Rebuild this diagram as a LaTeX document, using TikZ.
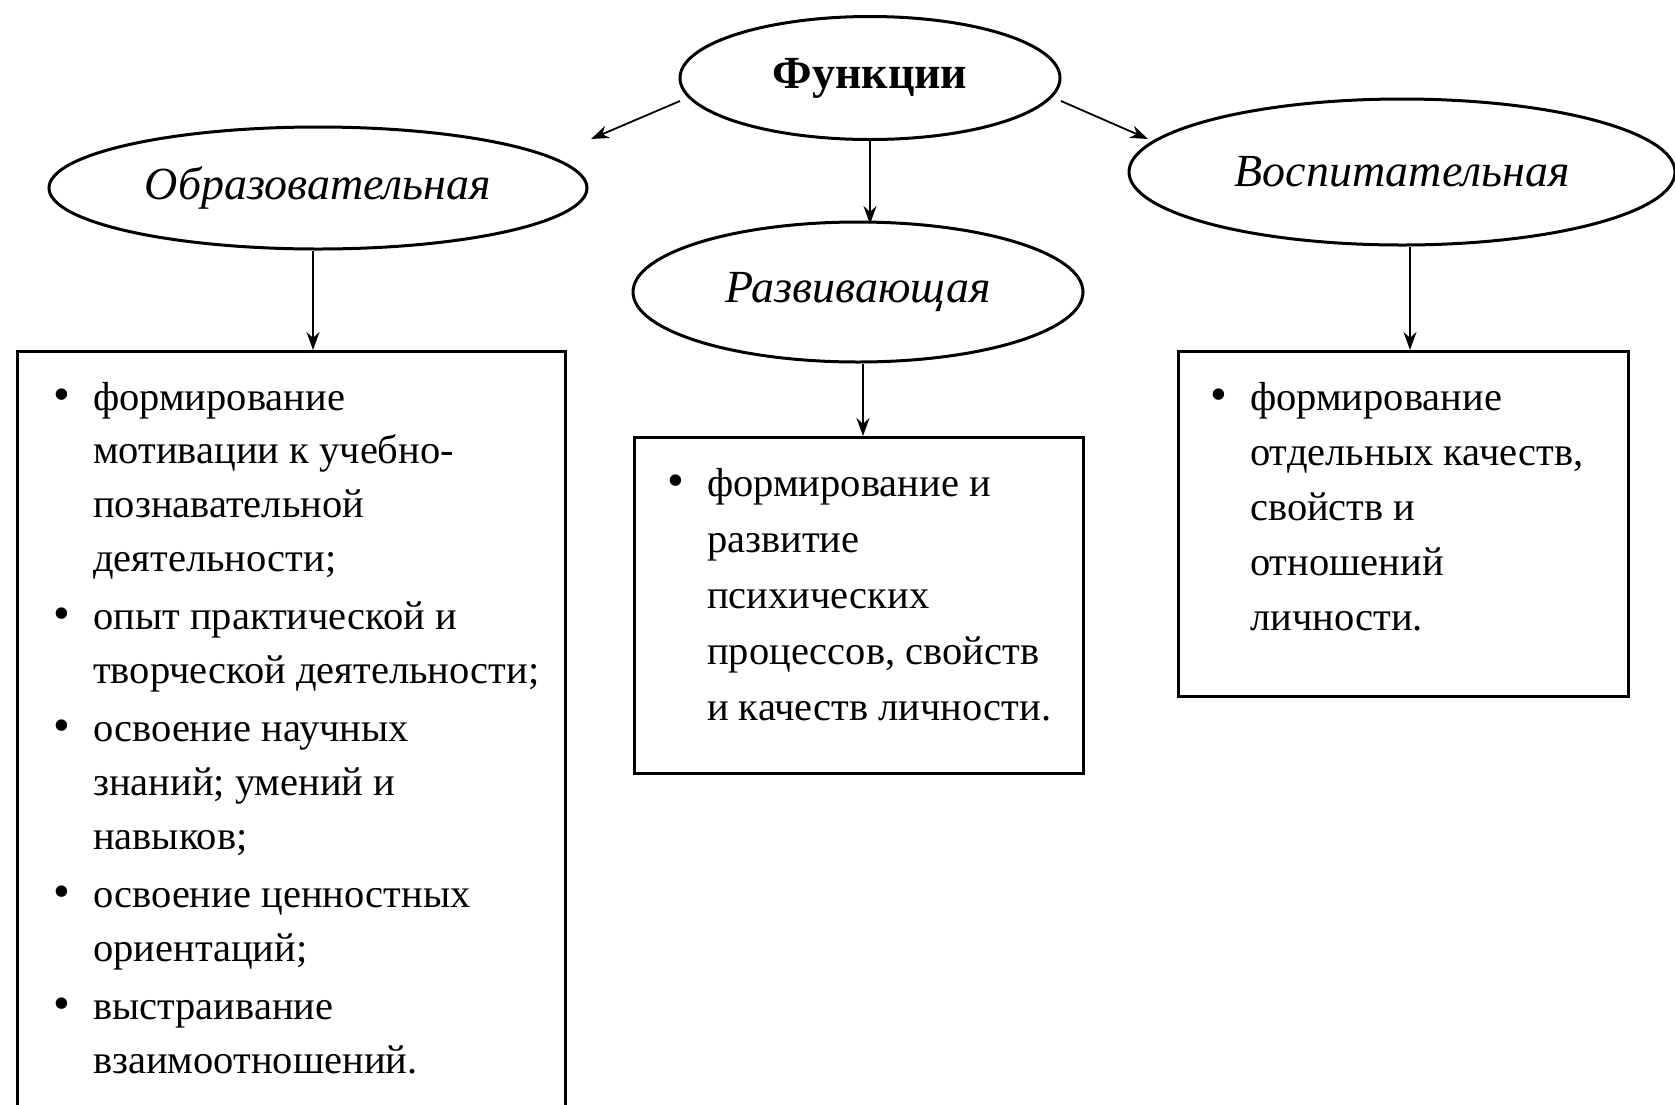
\documentclass[tikz,border=0pt]{standalone}
\usepackage{fontspec}
\setmainfont{Liberation Serif}
\usetikzlibrary{shapes.geometric,arrows.meta}
\tikzset{
  oval/.style={ellipse,draw,line width=3pt,inner sep=0pt},
  boxshape/.style={rectangle,draw,line width=3pt,inner sep=0pt,anchor=north west},
  conn/.style={line width=1.8pt,-{Stealth[length=18pt,width=13pt]}},
  listtext/.style={anchor=base west,inner sep=0pt,font=\fontsize{40.5}{53.8}\selectfont}
}
\newcommand{\bul}{\makebox[40pt][l]{\raisebox{0pt}{\fontsize{48}{48}\selectfont\textbullet}}}
\begin{document}
\begin{tikzpicture}[x=1pt,y=-1pt]
\clip (0,0) rectangle (1675,1104);
\fill[white] (0,0) rectangle (1675,1104);
% ellipses
\node[oval,minimum width=380pt,minimum height=123pt] (fun) at (870,78) {\fontsize{46}{50}\selectfont\bfseries Функции};
\node[oval,minimum width=538pt,minimum height=122pt] (obr) at (318,188) {\fontsize{46}{50}\selectfont\itshape Образовательная};
\node[oval,minimum width=546pt,minimum height=146pt] (vos) at (1402,172) {\fontsize{46}{50}\selectfont\itshape Воспитательная};
\node[oval,minimum width=450pt,minimum height=140pt] (raz) at (858,292) {\fontsize{46}{50}\selectfont\itshape Развивающая};
% boxes
\node[boxshape,minimum width=548pt,minimum height=770pt] (lbox) at (16,350) {};
\node[boxshape,minimum width=449pt,minimum height=336pt] (mbox) at (633,436) {};
\node[boxshape,minimum width=450pt,minimum height=345pt] (rbox) at (1177,350) {};
% connectors
\coordinate (funL) at (680,101);
\coordinate (funR) at (1061,101);
\coordinate (obrTip) at (591,139);
\coordinate (vosTip) at (1148,139);
\coordinate (razTop) at (870,224);
\draw[conn] (funL) -- (obrTip);
\draw[conn] (funR) -- (vosTip);
\draw[conn] (fun.south) -- (razTop);
\draw[conn] ([xshift=-5pt]obr.south) -- ([xshift=-5pt]obr.south |- lbox.north);
\draw[conn] ([xshift=5pt]raz.south) -- ([xshift=5pt]raz.south |- mbox.north);
\draw[conn] ([xshift=8pt]vos.south) -- ([xshift=8pt]vos.south |- rbox.north);
% texts
\node[listtext] (ltext) at (53,410) {\begin{tabular}[t]{@{}l@{}l@{}}
\bul & формирование\\
 & мотивации к учебно-\\
 & познавательной\\
 & деятельности;\\[4.5pt]
\bul & опыт практической и\\
 & творческой деятельности;\\[4.5pt]
\bul & освоение научных\\
 & знаний; умений и\\
 & навыков;\\[4.5pt]
\bul & освоение ценностных\\
 & ориентаций;\\[4.5pt]
\bul & выстраивание\\
 & взаимоотношений.
\end{tabular}};
\node[listtext,font=\fontsize{40.5}{56}\selectfont] (mtext) at (667,496) {\begin{tabular}[t]{@{}l@{}l@{}}
\bul & формирование и\\
 & развитие\\
 & психических\\
 & процессов, свойств\\
 & и качеств личности.
\end{tabular}};
\node[listtext,font=\fontsize{40.5}{55}\selectfont] (rtext) at (1210,410) {\begin{tabular}[t]{@{}l@{}l@{}}
\bul & формирование\\
 & отдельных качеств,\\
 & свойств и\\
 & отношений\\
 & личности.
\end{tabular}};
\end{tikzpicture}
\end{document}
